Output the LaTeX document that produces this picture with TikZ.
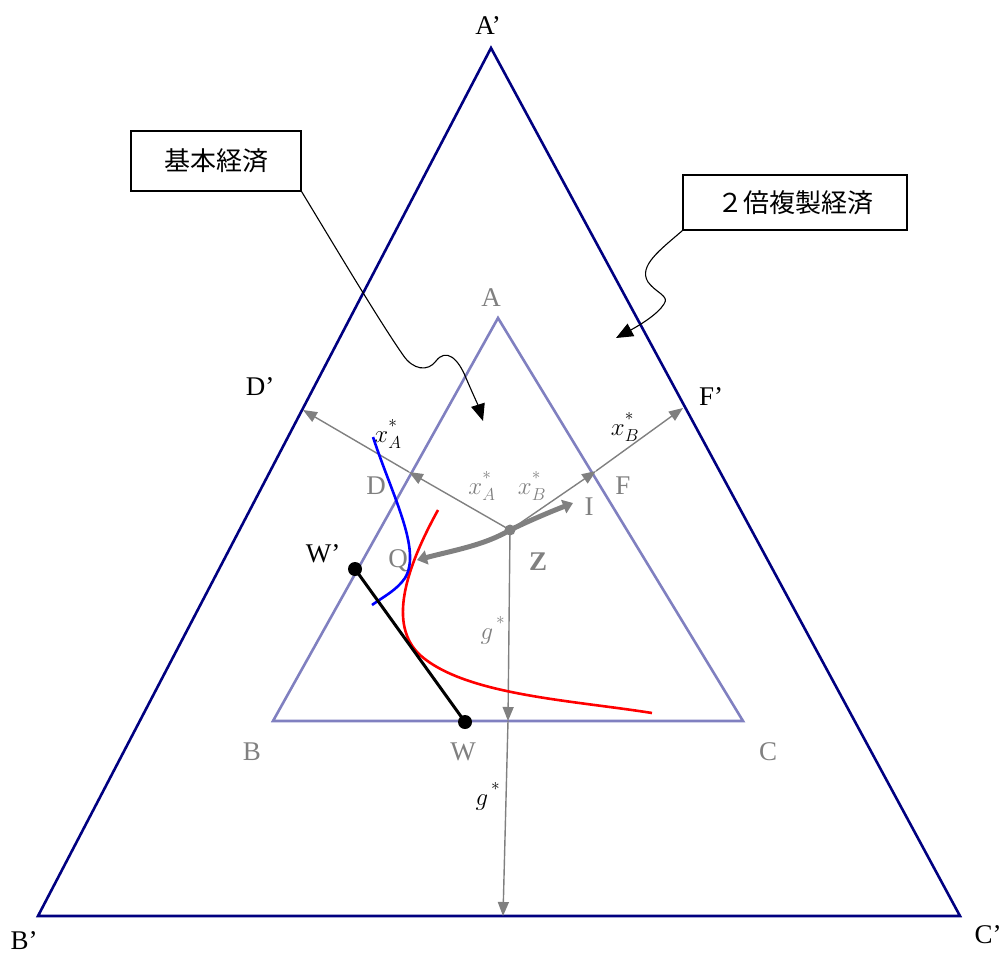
\documentclass[tikz,border=0pt]{standalone}
\usepackage{fontspec}
\setmainfont{Liberation Serif}
\newfontfamily\cjk{Noto Sans CJK JP}
\usetikzlibrary{arrows.meta}
\definecolor{outerc}{RGB}{0,0,128}
\definecolor{innerc}{RGB}{128,128,192}
\definecolor{grayc}{RGB}{128,128,128}
\newcommand{\hstar}{\raisebox{6pt}{$\scriptstyle *$}}
\begin{document}
\begin{tikzpicture}[x=1pt,y=-1pt,
  lbl/.style={font=\fontsize{27}{30}\selectfont, inner sep=0pt},
  glbl/.style={lbl, text=grayc},
  mth/.style={font=\fontsize{27}{30}\selectfont, inner sep=0pt},
  garrow/.style={grayc, line width=1.4pt, -{Triangle[length=14pt,width=11pt]}},
  callout/.style={draw, line width=1.3pt, font=\cjk\fontsize{26}{30}\selectfont, inner sep=0pt},
  pointer/.style={black, line width=1.1pt, -{Triangle[length=17pt,width=14pt]}},
  dot/.style={circle, fill=black, inner sep=0pt, minimum size=14pt}]
\useasboundingbox (0,0) rectangle (1001,955);
% outer triangle
\coordinate (Ap) at (491,48);
\coordinate (Bp) at (38,916);
\coordinate (Cp) at (960,916);
\draw[outerc, line width=2.6pt, line join=miter] (Ap) -- (Bp) -- (Cp) -- cycle;
% inner triangle
\coordinate (A) at (498,318);
\coordinate (B) at (273,721);
\coordinate (C) at (743,721);
\draw[innerc, line width=2.6pt] (A) -- (B) -- (C) -- cycle;
% labels outer
\node[lbl] (lAp) at (488,26) {A’};
\node[lbl] (lBp) at (24,941) {B’};
\node[lbl] (lCp) at (988,935) {C’};
\node[lbl] (lDp) at (260,387) {D’};
\node[lbl] (lFp) at (711,397) {F’};
% labels inner
\node[glbl] (lA) at (491,298) {A};
\node[glbl] (lB) at (252,752) {B};
\node[glbl] (lC) at (768,752) {C};
\node[glbl] (lD) at (376,486) {D};
\node[glbl] (lF) at (623,486) {F};
\node[glbl] (lW) at (463,752) {W};
\node[glbl] (lQ) at (398,561) {Q};
\node[glbl] (lI) at (589,507) {I};
\node[glbl, font=\fontsize{27}{30}\selectfont\bfseries] (lZ) at (538,562) {Z};
\node[lbl] (lWp) at (323,554) {W’};
% gray arrows
\coordinate (Z) at (510,530);
\coordinate (D) at (409,472);
\coordinate (Dp) at (303,410);
\coordinate (F) at (596,471);
\coordinate (Fp) at (683,408);
\coordinate (W0) at (508,721);
\coordinate (G) at (503,916);
\draw[garrow] (Z) -- (D);
\draw[garrow] (D) -- (Dp);
\draw[garrow] (Z) -- (F);
\draw[garrow] (F) -- (Fp);
\draw[garrow] (Z) -- (W0);
\draw[garrow] (W0) -- (G);
% math labels
\node[mth, text=grayc] (xAg) at (482,486) {$x_A^{\hstar}$};
\node[mth, text=grayc] (xBg) at (532,486) {$x_B^{\hstar}$};
\node[mth] (xA) at (388,434) {$x_A^{\hstar}$};
\node[mth] (xB) at (625,427) {$x_B^{\hstar}$};
\node[mth, text=grayc] (gg) at (493,630) {$g^{\,\hstar}$};
\node[mth] (gb) at (488,796) {$g^{\,\hstar}$};
% red curve
\draw[red, line width=2.6pt] (438,510) .. controls (405,570) and (388,625) .. (420,655) .. controls (465,695) and (570,700) .. (652,713);
% blue curve
\draw[blue, line width=2.6pt] (373,437) .. controls (392,495) and (422,550) .. (405,578) .. controls (397,590) and (383,597) .. (372,605);
% black segment
\node[dot] (Wp) at (355,569) {};
\node[dot] (W) at (465,722) {};
\draw[black, line width=3pt] (Wp.center) -- (W.center);
% thick gray arrow
\coordinate (Q) at (417,560);
\coordinate (I) at (573,503);
\draw[grayc, line width=5pt, {Triangle[length=10pt,width=14pt]}-{Triangle[length=10pt,width=14pt]}]
  (Q) .. controls (455,550) and (485,545) .. (Z) .. controls (535,518) and (555,510) .. (I);
\fill[grayc] (Z) circle (5.5pt);
% callouts
\node[callout, minimum width=170pt, minimum height=60pt] (k1) at (216,161) {基本経済};
\node[callout, minimum width=224pt, minimum height=55pt] (k2) at (795,202.5) {２倍複製経済};
\coordinate (t1) at (483,421);
\coordinate (t2) at (616,338);
\draw[pointer] (k1.south east) .. controls (340,255) and (380,322) .. (403,355) .. controls (413,370) and (428,372) .. (436,361) .. controls (446,348) and (458,358) .. (466,378) .. controls (472,392) and (478,405) .. (t1);
\draw[pointer] (k2.south west) .. controls (660,250) and (638,266) .. (648,282) .. controls (656,293) and (670,296) .. (664,304) .. controls (658,314) and (640,325) .. (t2);
\end{tikzpicture}
\end{document}
